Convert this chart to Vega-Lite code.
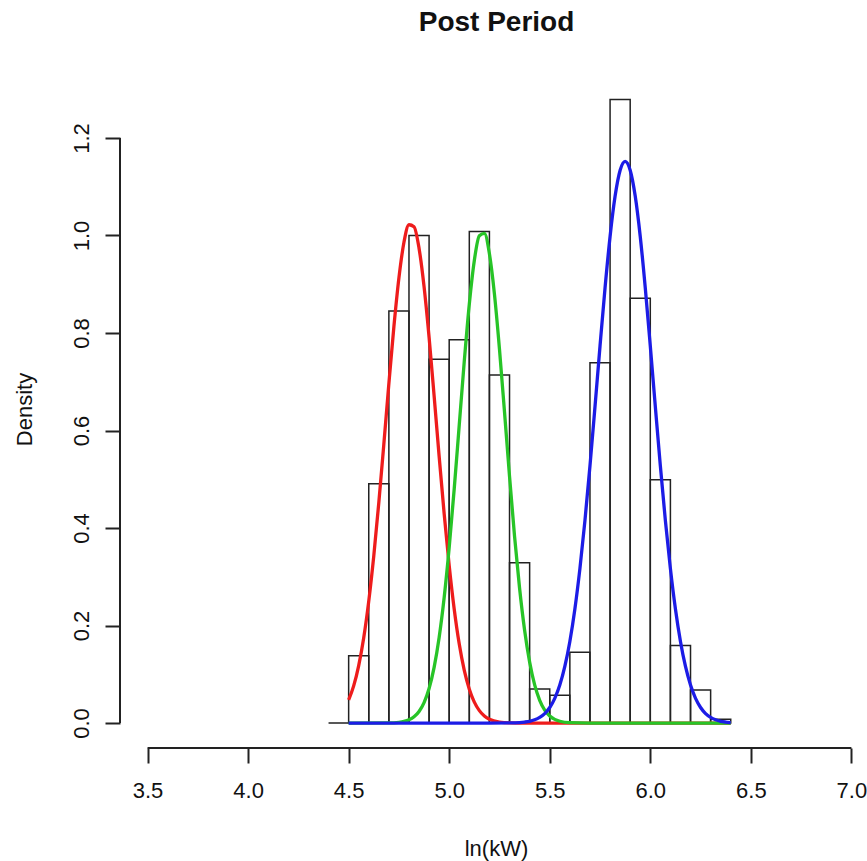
{
  "$schema": "https://vega.github.io/schema/vega-lite/v6.json",
  "autosize": {"type": "none"},
  "padding": {"left": 120, "top": 74, "right": 0, "bottom": 113},
  "width": 747,
  "height": 674,
  "background": "white",
  "config": {"view": {"stroke": null}},
  "title": {"text": "Post Period", "font": "Liberation Sans", "fontSize": 28, "fontWeight": "bold", "anchor": "middle", "frame": "group", "offset": 15, "baseline": "alphabetic", "dx": 3, "color": "#111"},
  "datasets": {
    "bars": [
      {"start": 4.4, "end": 4.5, "density": 0},
      {"start": 4.5, "end": 4.6, "density": 0.138},
      {"start": 4.6, "end": 4.7, "density": 0.491},
      {"start": 4.7, "end": 4.8, "density": 0.845},
      {"start": 4.8, "end": 4.9, "density": 1.0},
      {"start": 4.9, "end": 5.0, "density": 0.746},
      {"start": 5.0, "end": 5.1, "density": 0.786},
      {"start": 5.1, "end": 5.2, "density": 1.008},
      {"start": 5.2, "end": 5.3, "density": 0.714},
      {"start": 5.3, "end": 5.4, "density": 0.329},
      {"start": 5.4, "end": 5.5, "density": 0.07},
      {"start": 5.5, "end": 5.6, "density": 0.057},
      {"start": 5.6, "end": 5.7, "density": 0.145},
      {"start": 5.7, "end": 5.8, "density": 0.739},
      {"start": 5.8, "end": 5.9, "density": 1.279},
      {"start": 5.9, "end": 6.0, "density": 0.871},
      {"start": 6.0, "end": 6.1, "density": 0.499},
      {"start": 6.1, "end": 6.2, "density": 0.159},
      {"start": 6.2, "end": 6.3, "density": 0.068},
      {"start": 6.3, "end": 6.4, "density": 0.008}
    ],
    "red": [
      {"x": 4.5, "y": 0.0474}, {"x": 4.525, "y": 0.0762}, {"x": 4.55, "y": 0.1179}, {"x": 4.575, "y": 0.175},
      {"x": 4.6, "y": 0.25}, {"x": 4.625, "y": 0.343}, {"x": 4.65, "y": 0.452}, {"x": 4.675, "y": 0.572},
      {"x": 4.7, "y": 0.696}, {"x": 4.725, "y": 0.813}, {"x": 4.75, "y": 0.913}, {"x": 4.775, "y": 0.986},
      {"x": 4.8, "y": 1.022}, {"x": 4.825, "y": 1.018}, {"x": 4.85, "y": 0.974}, {"x": 4.875, "y": 0.895},
      {"x": 4.9, "y": 0.791}, {"x": 4.925, "y": 0.671}, {"x": 4.95, "y": 0.547}, {"x": 4.975, "y": 0.429},
      {"x": 5.0, "y": 0.323}, {"x": 5.025, "y": 0.2335}, {"x": 5.05, "y": 0.162}, {"x": 5.075, "y": 0.108},
      {"x": 5.1, "y": 0.0695}, {"x": 5.125, "y": 0.0428}, {"x": 5.15, "y": 0.0254}, {"x": 5.175, "y": 0.0144},
      {"x": 5.2, "y": 0.0079}, {"x": 5.25, "y": 0.0021}, {"x": 5.3, "y": 0.0005}, {"x": 5.4, "y": 0},
      {"x": 6.4, "y": 0}
    ],
    "green": [
      {"x": 4.5, "y": 0}, {"x": 4.7, "y": 0.0003}, {"x": 4.75, "y": 0.0015}, {"x": 4.775, "y": 0.0032},
      {"x": 4.8, "y": 0.0065}, {"x": 4.825, "y": 0.0127}, {"x": 4.85, "y": 0.0237}, {"x": 4.875, "y": 0.0419},
      {"x": 4.9, "y": 0.0708}, {"x": 4.925, "y": 0.1142}, {"x": 4.95, "y": 0.1756}, {"x": 4.975, "y": 0.2574},
      {"x": 5.0, "y": 0.3602}, {"x": 5.025, "y": 0.4805}, {"x": 5.05, "y": 0.6114}, {"x": 5.075, "y": 0.7421},
      {"x": 5.1, "y": 0.8592}, {"x": 5.125, "y": 0.9489}, {"x": 5.15, "y": 0.9994}, {"x": 5.175, "y": 1.0042},
      {"x": 5.2, "y": 0.9624}, {"x": 5.225, "y": 0.8798}, {"x": 5.25, "y": 0.7671}, {"x": 5.275, "y": 0.638},
      {"x": 5.3, "y": 0.5061}, {"x": 5.325, "y": 0.3829}, {"x": 5.35, "y": 0.2764}, {"x": 5.375, "y": 0.1903},
      {"x": 5.4, "y": 0.125}, {"x": 5.425, "y": 0.0782}, {"x": 5.45, "y": 0.0467}, {"x": 5.475, "y": 0.0266},
      {"x": 5.5, "y": 0.0145}, {"x": 5.525, "y": 0.0075}, {"x": 5.55, "y": 0.0037}, {"x": 5.6, "y": 0.0008},
      {"x": 5.7, "y": 0}, {"x": 6.4, "y": 0}
    ],
    "blue": [
      {"x": 4.5, "y": 0}, {"x": 5.2, "y": 0}, {"x": 5.3, "y": 0.0003}, {"x": 5.35, "y": 0.001},
      {"x": 5.375, "y": 0.002}, {"x": 5.4, "y": 0.0036}, {"x": 5.425, "y": 0.0066}, {"x": 5.45, "y": 0.0115},
      {"x": 5.475, "y": 0.0194}, {"x": 5.5, "y": 0.0319}, {"x": 5.525, "y": 0.0506}, {"x": 5.55, "y": 0.0778},
      {"x": 5.575, "y": 0.116}, {"x": 5.6, "y": 0.1674}, {"x": 5.625, "y": 0.234}, {"x": 5.65, "y": 0.3167},
      {"x": 5.675, "y": 0.4152}, {"x": 5.7, "y": 0.5274}, {"x": 5.725, "y": 0.6489}, {"x": 5.75, "y": 0.7733},
      {"x": 5.775, "y": 0.8926}, {"x": 5.8, "y": 0.998}, {"x": 5.825, "y": 1.0808}, {"x": 5.85, "y": 1.1338},
      {"x": 5.875, "y": 1.152}, {"x": 5.9, "y": 1.1338}, {"x": 5.925, "y": 1.0808}, {"x": 5.95, "y": 0.998},
      {"x": 5.975, "y": 0.8926}, {"x": 6.0, "y": 0.7733}, {"x": 6.025, "y": 0.6489}, {"x": 6.05, "y": 0.5274},
      {"x": 6.075, "y": 0.4152}, {"x": 6.1, "y": 0.3167}, {"x": 6.125, "y": 0.234}, {"x": 6.15, "y": 0.1674},
      {"x": 6.175, "y": 0.116}, {"x": 6.2, "y": 0.0778}, {"x": 6.225, "y": 0.0506}, {"x": 6.25, "y": 0.0319},
      {"x": 6.275, "y": 0.0194}, {"x": 6.3, "y": 0.0115}, {"x": 6.325, "y": 0.0066}, {"x": 6.35, "y": 0.0036},
      {"x": 6.375, "y": 0.002}, {"x": 6.4, "y": 0.001}
    ],
    "dummy": [{"k": 1}]
  },
  "resolve": {"scale": {"x": "shared", "y": "shared"}},
  "layer": [
    {
      "data": {"name": "bars"},
      "mark": {"type": "rect", "fill": "transparent", "stroke": "#222", "strokeWidth": 1.5},
      "encoding": {
        "x": {"field": "start", "type": "quantitative",
          "scale": {"domain": [3.363, 7.0776], "nice": false, "zero": false},
          "axis": {"title": "ln(kW)", "values": [3.5, 4.0, 4.5, 5.0, 5.5, 6.0, 6.5, 7.0], "format": ".1f",
            "domain": false, "grid": false, "tickSize": 15, "tickWidth": 2, "tickColor": "#222",
            "labelFontSize": 22, "labelFont": "Liberation Sans", "labelColor": "#111", "labelPadding": 17,
            "labelFlush": false, "labelOverlap": false, "labelBound": false,
            "titleFont": "Liberation Sans", "titleFontSize": 22, "titleFontWeight": "normal", "titleColor": "#111",
            "titleX": 376, "titleY": 100, "titleAlign": "center", "titleBaseline": "middle", "titleAngle": 0}},
        "x2": {"field": "end"},
        "y": {"field": "density", "type": "quantitative",
          "scale": {"domain": [-0.0512, 1.3312], "nice": false, "zero": false},
          "axis": {"title": "Density", "values": [0, 0.2, 0.4, 0.6, 0.8, 1.0, 1.2], "format": ".1f",
            "domain": false, "grid": false, "tickSize": 15, "tickWidth": 2, "tickColor": "#222",
            "labelFontSize": 22, "labelFont": "Liberation Sans", "labelColor": "#111", "labelPadding": 17,
            "labelAngle": 270, "labelAlign": "center", "labelBaseline": "alphabetic",
            "labelFlush": false, "labelOverlap": false, "labelBound": false,
            "titleFont": "Liberation Sans", "titleFontSize": 22, "titleFontWeight": "normal", "titleColor": "#111",
            "titleX": -96, "titleY": 335, "titleAlign": "center", "titleBaseline": "middle", "titleAngle": 270}},
        "y2": {"datum": 0}
      }
    },
    {
      "data": {"name": "red"},
      "mark": {"type": "line", "color": "#ee1c1c", "strokeWidth": 3.3, "interpolate": "monotone"},
      "encoding": {"x": {"field": "x", "type": "quantitative"}, "y": {"field": "y", "type": "quantitative"}}
    },
    {
      "data": {"name": "green"},
      "mark": {"type": "line", "color": "#27c427", "strokeWidth": 3.3, "interpolate": "monotone"},
      "encoding": {"x": {"field": "x", "type": "quantitative"}, "y": {"field": "y", "type": "quantitative"}}
    },
    {
      "data": {"name": "blue"},
      "mark": {"type": "line", "color": "#1c1ce6", "strokeWidth": 3.3, "interpolate": "monotone"},
      "encoding": {"x": {"field": "x", "type": "quantitative"}, "y": {"field": "y", "type": "quantitative"}}
    },
    {
      "data": {"name": "dummy"},
      "mark": {"type": "rule", "color": "#222", "strokeWidth": 2},
      "encoding": {"x": {"datum": 3.363}, "y": {"datum": 0}, "y2": {"datum": 1.2}}
    },
    {
      "data": {"name": "dummy"},
      "mark": {"type": "rule", "color": "#222", "strokeWidth": 2},
      "encoding": {"x": {"datum": 3.5}, "x2": {"datum": 7.0}, "y": {"datum": -0.0512}}
    }
  ]
}
